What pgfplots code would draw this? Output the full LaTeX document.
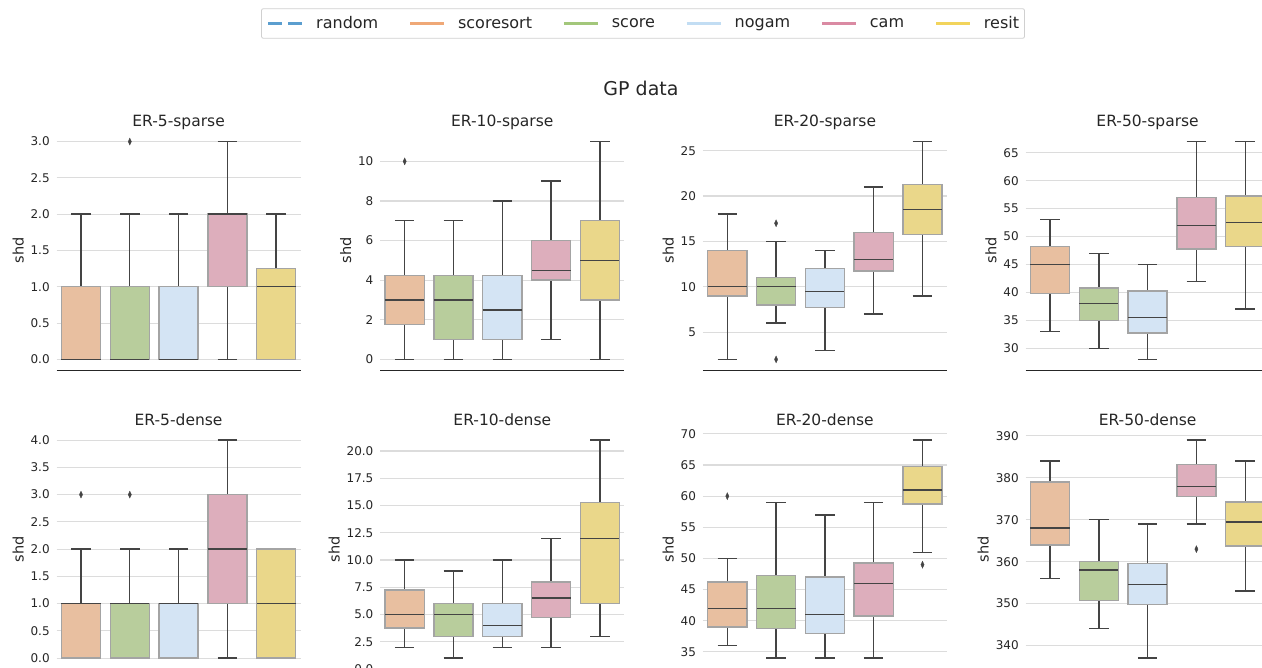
\documentclass[border=0pt]{standalone}
\usepackage{fontspec}
\setmainfont{DejaVu Sans}
\usepackage{pgfplots}
\pgfplotsset{compat=1.18}
\usepgfplotslibrary{statistics}
\definecolor{c1}{HTML}{E8BFA0}
\definecolor{c2}{HTML}{B8CD9C}
\definecolor{c3}{HTML}{D4E4F4}
\definecolor{c4}{HTML}{DDAEBC}
\definecolor{c5}{HTML}{EAD78A}
\definecolor{l0}{HTML}{5B9ECF}
\definecolor{l1}{HTML}{EFA877}
\definecolor{l2}{HTML}{A3C77B}
\definecolor{l3}{HTML}{C2DDF3}
\definecolor{l4}{HTML}{DA8AA3}
\definecolor{l5}{HTML}{F2D45C}
\definecolor{boxedge}{HTML}{A4A4A4}
\definecolor{whisk}{HTML}{444444}
\definecolor{gridc}{HTML}{DCDCDC}
\definecolor{txt}{HTML}{262626}
\definecolor{legborder}{HTML}{D0D0D0}
\pgfplotsset{
  myax/.style={
    scale only axis, anchor=south west, width=244pt,
    xmin=-0.5, xmax=4.5, xtick=\empty,
    ymajorgrids, grid style={color=gridc, line width=1.1pt},
    axis x line*=bottom, axis y line*=left,
    x axis line style={-, draw=txt, line width=1.2pt},
    y axis line style={draw=none},
    major tick length=0pt,
    tick label style={font=\fontsize{12}{14}\selectfont, color=txt, /pgf/number format/assume math mode=true},
    yticklabel style={xshift=-3.4pt},
    ylabel=shd,
    ylabel style={font=\fontsize{14.5}{17}\selectfont, color=txt, xshift=0pt},
    title style={font=\fontsize{15.5}{18}\selectfont, color=txt, at={(0.5,1)}, anchor=base, yshift=-2.2pt},
    clip=false,
    boxplot/draw direction=y,
  },
  onedec/.style={yticklabel style={/pgf/number format/.cd, fixed, fixed zerofill, precision=1}},
  bx/.style={fill=#1, draw=boxedge, line width=1.4pt,
    mark=diamond*, mark size=3.5pt,
    mark options={fill=whisk, draw=whisk, line width=0.3pt, xscale=0.62},
    boxplot/every whisker/.style={draw=whisk, line width=1.4pt, fill=none},
    boxplot/every median/.style={draw=whisk, line width=1.4pt}},
  boxplot/box extend=0.8,
  boxplot/whisker extend=0.4,
}
\begin{document}
\begin{tikzpicture}
\useasboundingbox (0,0) rectangle (1262pt,668pt);
\clip (0,0) rectangle (1262pt,668pt);

% ---------------- legend ----------------
\begin{axis}[hide axis, scale only axis, at={(0pt,0pt)}, anchor=south west,
  width=1262pt, height=668pt, xmin=0, xmax=1, ymin=0, ymax=1,
  legend columns=6,
  legend style={at={(0.5095,0.9648)}, anchor=center, draw=legborder, line width=0.8pt,
    rounded corners=2pt, font=\fontsize{16}{19}\selectfont, text=txt,
    inner xsep=5.5pt, inner ysep=5pt,
    nodes={inner xsep=0pt, inner ysep=3pt},
    /tikz/column sep=0pt,
    /tikz/every even column/.append style={column sep=30.5pt}},
  legend image code/.code={\draw[#1] (0pt,0pt) -- (34pt,0pt); \path (46.5pt,0pt);},
]
\addlegendimage{l0, line width=2.8pt, dash pattern=on 14pt off 6pt}
\addlegendentry{random}
\addlegendimage{l1, line width=2.8pt}
\addlegendentry{scoresort}
\addlegendimage{l2, line width=2.8pt}
\addlegendentry{score}
\addlegendimage{l3, line width=2.8pt}
\addlegendentry{nogam}
\addlegendimage{l4, line width=2.8pt}
\addlegendentry{cam}
\addlegendimage{l5, line width=2.8pt}
\addlegendentry{resit}
\end{axis}

\node[font=\fontsize{19}{22}\selectfont, text=txt] at (641pt,580pt) {GP data};

% ---------------- row 1: sparse ----------------
\begin{axis}[myax, onedec, at={(56.6pt,297.7pt)}, height=239.6pt,
  ymin=-0.15, ymax=3.15, ytick={0,0.5,...,3}, title={ER-5-sparse}]
\addplot[bx=c1, boxplot prepared={draw position=0, lower whisker=0, lower quartile=0, median=0, upper quartile=1, upper whisker=2}] coordinates {};
\addplot[bx=c2, boxplot prepared={draw position=1, lower whisker=0, lower quartile=0, median=0, upper quartile=1, upper whisker=2}] coordinates {(1,3)};
\addplot[bx=c3, boxplot prepared={draw position=2, lower whisker=0, lower quartile=0, median=0, upper quartile=1, upper whisker=2}] coordinates {};
\addplot[bx=c4, boxplot prepared={draw position=3, lower whisker=0, lower quartile=1, median=2, upper quartile=2, upper whisker=3}] coordinates {};
\addplot[bx=c5, boxplot prepared={draw position=4, lower whisker=0, lower quartile=0, median=1, upper quartile=1.25, upper whisker=2}] coordinates {};
\end{axis}

\begin{axis}[myax, at={(380.3pt,297.7pt)}, height=239.6pt,
  ymin=-0.55, ymax=11.55, ytick={0,2,...,10}, title={ER-10-sparse}]
\addplot[bx=c1, boxplot prepared={draw position=0, lower whisker=0, lower quartile=1.75, median=3, upper quartile=4.25, upper whisker=7}] coordinates {(0,10)};
\addplot[bx=c2, boxplot prepared={draw position=1, lower whisker=0, lower quartile=1, median=3, upper quartile=4.25, upper whisker=7}] coordinates {};
\addplot[bx=c3, boxplot prepared={draw position=2, lower whisker=0, lower quartile=1, median=2.5, upper quartile=4.25, upper whisker=8}] coordinates {};
\addplot[bx=c4, boxplot prepared={draw position=3, lower whisker=1, lower quartile=4, median=4.5, upper quartile=6, upper whisker=9}] coordinates {};
\addplot[bx=c5, boxplot prepared={draw position=4, lower whisker=0, lower quartile=3, median=5, upper quartile=7, upper whisker=11}] coordinates {};
\end{axis}

\begin{axis}[myax, at={(702.9pt,297.7pt)}, height=239.6pt,
  ymin=0.8, ymax=27.2, ytick={5,10,...,25}, title={ER-20-sparse}]
\addplot[bx=c1, boxplot prepared={draw position=0, lower whisker=2, lower quartile=9, median=10, upper quartile=14, upper whisker=18}] coordinates {};
\addplot[bx=c2, boxplot prepared={draw position=1, lower whisker=6, lower quartile=8, median=10, upper quartile=11, upper whisker=15}] coordinates {(1,17) (1,2)};
\addplot[bx=c3, boxplot prepared={draw position=2, lower whisker=3, lower quartile=7.75, median=9.5, upper quartile=12, upper whisker=14}] coordinates {};
\addplot[bx=c4, boxplot prepared={draw position=3, lower whisker=7, lower quartile=11.75, median=13, upper quartile=16, upper whisker=21}] coordinates {};
\addplot[bx=c5, boxplot prepared={draw position=4, lower whisker=9, lower quartile=15.75, median=18.5, upper quartile=21.25, upper whisker=26}] coordinates {};
\end{axis}

\begin{axis}[myax, at={(1025.6pt,297.7pt)}, height=239.6pt,
  ymin=26.05, ymax=68.95, ytick={30,35,...,65}, title={ER-50-sparse}]
\addplot[bx=c1, boxplot prepared={draw position=0, lower whisker=33, lower quartile=39.75, median=45, upper quartile=48.25, upper whisker=53}] coordinates {};
\addplot[bx=c2, boxplot prepared={draw position=1, lower whisker=30, lower quartile=35, median=38, upper quartile=40.75, upper whisker=47}] coordinates {};
\addplot[bx=c3, boxplot prepared={draw position=2, lower whisker=28, lower quartile=32.75, median=35.5, upper quartile=40.25, upper whisker=45}] coordinates {};
\addplot[bx=c4, boxplot prepared={draw position=3, lower whisker=42, lower quartile=47.75, median=52, upper quartile=57, upper whisker=67}] coordinates {};
\addplot[bx=c5, boxplot prepared={draw position=4, lower whisker=37, lower quartile=48.25, median=52.5, upper quartile=57.25, upper whisker=67}] coordinates {};
\end{axis}

% ---------------- row 2: dense ----------------
\begin{axis}[myax, onedec, at={(56.6pt,-1.05pt)}, height=239.85pt,
  ymin=-0.2, ymax=4.2, ytick={0,0.5,...,4}, title={ER-5-dense}]
\addplot[bx=c1, boxplot prepared={draw position=0, lower whisker=0, lower quartile=0, median=1, upper quartile=1, upper whisker=2}] coordinates {(0,3)};
\addplot[bx=c2, boxplot prepared={draw position=1, lower whisker=0, lower quartile=0, median=1, upper quartile=1, upper whisker=2}] coordinates {(1,3)};
\addplot[bx=c3, boxplot prepared={draw position=2, lower whisker=0, lower quartile=0, median=1, upper quartile=1, upper whisker=2}] coordinates {};
\addplot[bx=c4, boxplot prepared={draw position=3, lower whisker=0, lower quartile=1, median=2, upper quartile=3, upper whisker=4}] coordinates {};
\addplot[bx=c5, boxplot prepared={draw position=4, lower whisker=0, lower quartile=0, median=1, upper quartile=2, upper whisker=2}] coordinates {};
\end{axis}

\begin{axis}[myax, onedec, at={(380.3pt,-1.05pt)}, height=239.85pt,
  ymin=0, ymax=22, ytick={0,2.5,...,20}, title={ER-10-dense}]
\addplot[bx=c1, boxplot prepared={draw position=0, lower whisker=2, lower quartile=3.75, median=5, upper quartile=7.25, upper whisker=10}] coordinates {};
\addplot[bx=c2, boxplot prepared={draw position=1, lower whisker=1, lower quartile=3, median=5, upper quartile=6, upper whisker=9}] coordinates {};
\addplot[bx=c3, boxplot prepared={draw position=2, lower whisker=2, lower quartile=3, median=4, upper quartile=6, upper whisker=10}] coordinates {};
\addplot[bx=c4, boxplot prepared={draw position=3, lower whisker=2, lower quartile=4.75, median=6.5, upper quartile=8, upper whisker=12}] coordinates {};
\addplot[bx=c5, boxplot prepared={draw position=4, lower whisker=3, lower quartile=6, median=12, upper quartile=15.25, upper whisker=21}] coordinates {};
\end{axis}

\begin{axis}[myax, at={(702.9pt,-1.05pt)}, height=239.85pt,
  ymin=32.25, ymax=70.75, ytick={35,40,...,70}, title={ER-20-dense}]
\addplot[bx=c1, boxplot prepared={draw position=0, lower whisker=36, lower quartile=39, median=42, upper quartile=46.25, upper whisker=50}] coordinates {(0,60)};
\addplot[bx=c2, boxplot prepared={draw position=1, lower whisker=34, lower quartile=38.75, median=42, upper quartile=47.25, upper whisker=59}] coordinates {};
\addplot[bx=c3, boxplot prepared={draw position=2, lower whisker=34, lower quartile=38, median=41, upper quartile=47, upper whisker=57}] coordinates {};
\addplot[bx=c4, boxplot prepared={draw position=3, lower whisker=34, lower quartile=40.75, median=46, upper quartile=49.25, upper whisker=59}] coordinates {};
\addplot[bx=c5, boxplot prepared={draw position=4, lower whisker=51, lower quartile=58.75, median=61, upper quartile=64.75, upper whisker=69}] coordinates {(4,49)};
\end{axis}

\begin{axis}[myax, at={(1025.6pt,-1.05pt)}, height=239.85pt,
  ymin=334.4, ymax=391.6, ytick={340,350,...,390}, title={ER-50-dense}]
\addplot[bx=c1, boxplot prepared={draw position=0, lower whisker=356, lower quartile=364, median=368, upper quartile=379, upper whisker=384}] coordinates {};
\addplot[bx=c2, boxplot prepared={draw position=1, lower whisker=344, lower quartile=350.75, median=358, upper quartile=360, upper whisker=370}] coordinates {};
\addplot[bx=c3, boxplot prepared={draw position=2, lower whisker=337, lower quartile=349.75, median=354.5, upper quartile=359.5, upper whisker=369}] coordinates {};
\addplot[bx=c4, boxplot prepared={draw position=3, lower whisker=369, lower quartile=375.5, median=378, upper quartile=383.25, upper whisker=389}] coordinates {(3,363)};
\addplot[bx=c5, boxplot prepared={draw position=4, lower whisker=353, lower quartile=363.75, median=369.5, upper quartile=374.25, upper whisker=384}] coordinates {};
\end{axis}
\end{tikzpicture}
\end{document}
